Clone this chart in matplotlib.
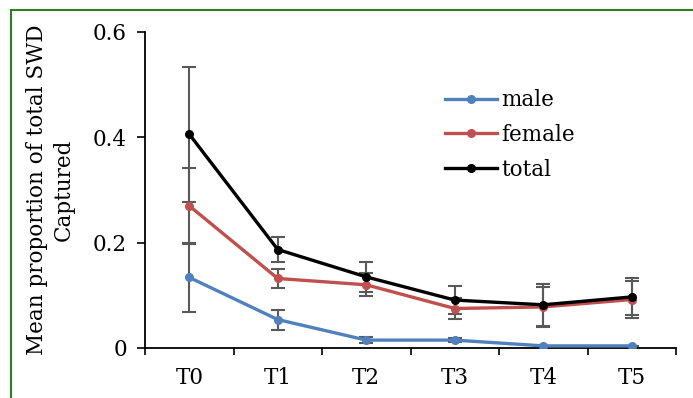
import numpy as np
import matplotlib.pyplot as plt
from matplotlib.patches import Rectangle

plt.rcParams['font.family'] = ['DejaVu Serif']

# --- data ---
periods = ['T0', 'T1', 'T2', 'T3', 'T4', 'T5']
male = [0.134, 0.054, 0.015, 0.015, 0.004, 0.004]
male_err = [0.065, 0.019, 0.005, 0.004, 0.0, 0.0]
female = [0.270, 0.132, 0.120, 0.075, 0.078, 0.092]
female_err = [0.072, 0.018, 0.022, 0.020, 0.038, 0.035]
total = [0.406, 0.187, 0.135, 0.091, 0.082, 0.097]
total_err = [0.128, 0.024, 0.029, 0.026, 0.040, 0.035]

series = [
    ('male', male, male_err, '#4F81BD'),
    ('female', female, female_err, '#C0504D'),
    ('total', total, total_err, 'black'),
]

fig = plt.figure(figsize=(6.93, 3.98), dpi=100)
ax = fig.add_axes([145 / 693, 1 - 348 / 398, 531 / 693, 316 / 398])

x = np.arange(len(periods))
for name, vals, err, col in series:
    ax.errorbar(x, vals, yerr=err, fmt='none', ecolor='#595959',
                elinewidth=1.5, capsize=4.7, capthick=1.5, zorder=2)
for name, vals, err, col in series:
    ax.plot(x, vals, '-o', color=col, lw=2.4, ms=5.5, label=name, zorder=3)

ax.set_xlim(-0.5, len(periods) - 0.5)
ax.set_ylim(0, 0.6)
ax.set_yticks([0, 0.2, 0.4, 0.6])
ax.set_yticklabels(['0', '0.2', '0.4', '0.6'])
ax.set_xticks(x)
ax.set_xticklabels(periods)
ax.set_xticks(np.arange(-0.5, len(periods)), minor=True)
ax.tick_params(axis='x', which='major', length=0, pad=14, labelsize=15.5)
ax.tick_params(axis='x', which='minor', length=5, width=1.2)
ax.tick_params(axis='y', length=6, width=1.2, labelsize=15.5, pad=7)
for s in ['top', 'right']:
    ax.spines[s].set_visible(False)
for s in ['left', 'bottom']:
    ax.spines[s].set_linewidth(1.3)

ax.set_ylabel('Mean proportion of total SWD\nCaptured', fontsize=15.5,
              linespacing=1.3, labelpad=13)

ax.legend(loc='center left', bbox_to_anchor=(0.565, 0.674), frameon=False,
          fontsize=15.5, handlelength=2.4, handletextpad=0.2, labelspacing=0.6,
          borderaxespad=0, borderpad=0)

# green frame around chart area
fig.patches.append(Rectangle((11 / 693, -0.01), 1.0, 1 - 10 / 398 + 0.01,
                             transform=fig.transFigure, fill=False,
                             edgecolor='#2E7D1E', lw=1.5))

fig.savefig('out.png', dpi=100)
